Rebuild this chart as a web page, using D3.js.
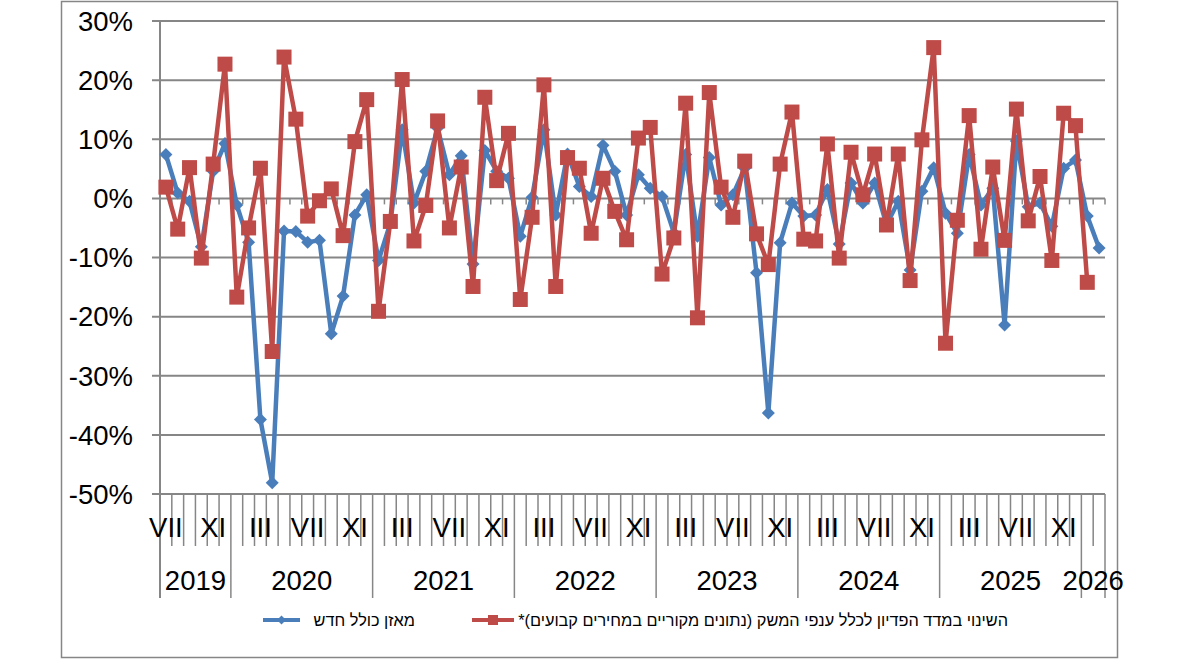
<!DOCTYPE html>
<html>
<head>
<meta charset="utf-8">
<script src="https://cdn.jsdelivr.net/npm/d3@7"></script>
<style>
    body { margin: 0; background: #fff; }
</style>
</head>
<body>
<div id="chart"></div>
<script>
// categories: Jul 2019 .. Feb 2026
const years = ['2019', '2020', '2021', '2022', '2023', '2024', '2025', '2026']
const monthsInYear = [6, 12, 12, 12, 12, 12, 12, 2]
const firstMonth = 7
const roman = ['I', 'II', 'III', 'IV', 'V', 'VI', 'VII', 'VIII', 'IX', 'X', 'XI', 'XII']
const yTicks = [-50, -40, -30, -20, -10, 0, 10, 20, 30]

// מאזן כולל חדש
const balance = [
    7.4, 0.9, -0.5, -8.2, 4.6, 9.3,
    -1.1, -7.4, -37.4, -48.1, -5.5, -5.6, -7.4, -7.1, -22.9, -16.5, -2.8, 0.6,
    -10.5, -4.2, 11.6, -0.8, 4.6, 11.9, 4.0, 7.2, -11.1, 8.1, 4.6, 3.4,
    -6.4, 0.2, 11.6, -2.8, 7.5, 2.0, 0.3, 9.0, 4.6, -2.8, 4.0, 1.7,
    0.3, -5.8, 7.4, -6.4, 6.9, -1.1, 0.6, 5.1, -12.6, -36.3, -7.5, -0.8,
    -3.0, -2.8, 1.5, -7.7, 2.6, -0.8, 2.6, -4.5, -0.5, -12.1, 1.2, 5.2,
    -2.5, -5.9, 7.4, -1.1, 1.7, -21.4, 9.7, -1.4, -0.8, -4.7, 5.1, 6.5,
    -3.0, -8.4
]
// השינוי במדד הפדיון
const revenue = [
    1.9, -5.2, 5.2, -10.1, 5.8, 22.7,
    -16.7, -5.0, 5.1, -25.9, 23.9, 13.4, -3.0, -0.4, 1.6, -6.3, 9.6, 16.7,
    -19.1, -3.9, 20.1, -7.2, -1.2, 13.1, -5.0, 5.3, -14.9, 17.1, 3.0, 11.0,
    -17.1, -3.2, 19.2, -14.9, 6.9, 5.1, -5.9, 3.4, -2.2, -7.0, 10.2, 12.0,
    -12.8, -6.7, 16.1, -20.2, 17.9, 1.9, -3.2, 6.3, -6.0, -11.2, 5.8, 14.6,
    -6.9, -7.2, 9.2, -10.1, 7.8, 0.6, 7.5, -4.5, 7.5, -13.9, 9.9, 25.5,
    -24.5, -3.7, 14.0, -8.6, 5.3, -7.1, 15.1, -3.8, 3.7, -10.5, 14.4, 12.3,
    -14.2, null
]
const seriesNames = ['מאזן כולל חדש', 'השינוי במדד הפדיון לכלל ענפי המשק (נתונים מקוריים במחירים קבועים)*']

const blue = '#4A7EBB'
const red = '#BE4B48'
const gray = '#868686'
const font = 'Arial, \'Liberation Sans\', sans-serif'

// build category list
const cats = []
years.forEach((yr, yi) => {
    for (let m = 0; m < monthsInYear[yi]; m++) {
        const month = yi === 0 ? firstMonth + m : m + 1
        cats.push({ year: yr, month: month, label: roman[month - 1] })
    }
})

const plotLeft = 160
const plotRight = 1105
const plotTop = 21
const plotBottom = 494

const x = d3.scaleBand().domain(d3.range(cats.length)).range([plotLeft, plotRight]).padding(0)
const y = d3.scaleLinear().domain([-50, 30]).range([plotBottom, plotTop])
const bw = x.bandwidth()

const svg = d3.select('#chart').append('svg')
    .attr('width', 1200)
    .attr('height', 660)
    .attr('font-family', font)

// frame
svg.append('rect')
    .attr('x', 61.5).attr('y', 1.5)
    .attr('width', 1056).attr('height', 656)
    .attr('fill', '#fff')
    .attr('stroke', gray)
    .attr('stroke-width', 1.5)

// gridlines
svg.append('g').selectAll('line').data(yTicks).enter().append('line')
    .attr('x1', plotLeft - 8).attr('x2', plotRight)
    .attr('y1', d => y(d)).attr('y2', d => y(d))
    .attr('stroke', gray)
    .attr('stroke-width', 2)

// y axis labels
svg.append('g').selectAll('text').data(yTicks).enter().append('text')
    .attr('x', 133)
    .attr('y', d => y(d) + 9.8)
    .attr('text-anchor', 'end')
    .attr('font-size', 27.5)
    .attr('fill', '#000')
    .text(d => d + '%')

// y axis line (runs down into the category label area)
svg.append('line')
    .attr('x1', plotLeft).attr('x2', plotLeft)
    .attr('y1', plotTop).attr('y2', 598)
    .attr('stroke', gray).attr('stroke-width', 2)

// ticks on the zero axis
const bounds = d3.range(cats.length + 1).map(k => plotLeft + k * bw)
svg.append('g').selectAll('line').data(bounds).enter().append('line')
    .attr('x1', d => d).attr('x2', d => d)
    .attr('y1', y(0)).attr('y2', y(0) + 6)
    .attr('stroke', gray).attr('stroke-width', 1.5)

// category separators below the plot
const yearStarts = [0]
monthsInYear.forEach((n, i) => yearStarts.push(yearStarts[i] + n))
svg.append('g').selectAll('line').data(d3.range(cats.length + 1)).enter().append('line')
    .attr('x1', k => plotLeft + k * bw).attr('x2', k => plotLeft + k * bw)
    .attr('y1', plotBottom)
    .attr('y2', k => yearStarts.includes(k) ? 598 : 546)
    .attr('stroke', gray).attr('stroke-width', 1.5)

// month labels, every 4th
svg.append('g').selectAll('text').data(cats.filter((c, i) => i % 4 === 0)).enter().append('text')
    .attr('x', (c) => x(cats.indexOf(c)) + bw / 2)
    .attr('y', 537)
    .attr('text-anchor', 'middle')
    .attr('font-size', 27.5)
    .text(c => c.label)

// year labels
svg.append('g').selectAll('text').data(years).enter().append('text')
    .attr('x', (d, i) => plotLeft + (yearStarts[i] + monthsInYear[i] / 2) * bw)
    .attr('y', 589.5)
    .attr('text-anchor', 'middle')
    .attr('font-size', 27.5)
    .text(d => d)

const line = d3.line()
    .defined(d => d !== null)
    .x((d, i) => x(i) + bw / 2)
    .y(d => y(d))

// blue series
svg.append('path')
    .datum(balance)
    .attr('fill', 'none')
    .attr('stroke', blue)
    .attr('stroke-width', 4.5)
    .attr('stroke-linejoin', 'round')
    .attr('d', line)

svg.append('g').selectAll('path').data(balance).enter().append('path')
    .attr('transform', (d, i) => 'translate(' + (x(i) + bw / 2) + ',' + y(d) + ')')
    .attr('d', 'M0,-6.5L6.5,0L0,6.5L-6.5,0Z')
    .attr('fill', blue)

// red series
svg.append('path')
    .datum(revenue)
    .attr('fill', 'none')
    .attr('stroke', red)
    .attr('stroke-width', 4.5)
    .attr('stroke-linejoin', 'round')
    .attr('d', line)

svg.append('g').selectAll('rect').data(revenue.map((v, i) => [i, v]).filter(d => d[1] !== null)).enter().append('rect')
    .attr('x', d => x(d[0]) + bw / 2 - 7.5)
    .attr('y', d => y(d[1]) - 7.5)
    .attr('width', 15).attr('height', 15)
    .attr('fill', red)

// legend
const leg = svg.append('g').attr('font-size', 16.3)

leg.append('line')
    .attr('x1', 263).attr('x2', 300).attr('y1', 620).attr('y2', 620)
    .attr('stroke', blue).attr('stroke-width', 4)
leg.append('path')
    .attr('transform', 'translate(281.5,620)')
    .attr('d', 'M0,-4.5L4.5,0L0,4.5L-4.5,0Z')
    .attr('fill', blue)
leg.append('text')
    .attr('x', 415).attr('y', 625.5)
    .attr('direction', 'rtl')
    .attr('text-anchor', 'start')
    .text(seriesNames[0])

leg.append('line')
    .attr('x1', 472).attr('x2', 514).attr('y1', 620).attr('y2', 620)
    .attr('stroke', red).attr('stroke-width', 4)
leg.append('rect')
    .attr('x', 488).attr('y', 615)
    .attr('width', 10).attr('height', 10)
    .attr('fill', red)
leg.append('text')
    .attr('x', 1008).attr('y', 625.5)
    .attr('direction', 'rtl')
    .attr('text-anchor', 'start')
    .text(seriesNames[1])
</script>
</body>
</html>
